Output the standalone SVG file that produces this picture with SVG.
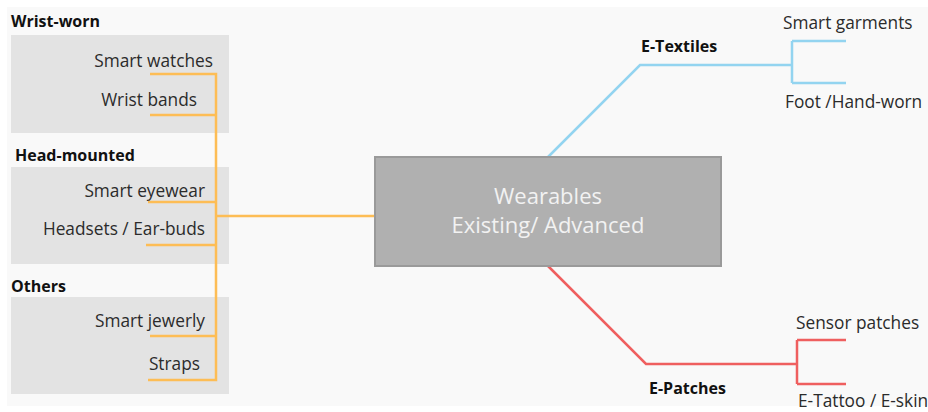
<svg xmlns="http://www.w3.org/2000/svg" width="928" height="412" viewBox="0 0 928 412">
<style>
.t{font-family:"Open Sans",Lato,"Liberation Sans",sans-serif;font-size:17.3px;fill:#2b2b2b}
.b{font-family:"Open Sans",Lato,"Liberation Sans",sans-serif;font-size:16px;font-weight:bold;fill:#111}
.c{font-family:"Open Sans",Lato,"Liberation Sans",sans-serif;font-size:22px;fill:#f2f2f2;text-anchor:middle}
.r{text-anchor:end}
.grp{fill:#e3e3e3}
.o{stroke:#fdbd55;stroke-width:2.5;fill:none}
.bl{stroke:#93d4f0;stroke-width:2.5;fill:none}
.rd{stroke:#ef5f5f;stroke-width:2.5;fill:none}
</style>
<rect x="0" y="0" width="928" height="412" fill="#ffffff"/>
<rect x="7" y="7" width="921" height="399" fill="#f9f9f9"/>
<g id="wrist-worn">
<text class="b" x="11" y="27">Wrist-worn</text>
<rect class="grp" x="11" y="35" width="218" height="98"/>
<text class="t r" x="213" y="67">Smart watches</text>
<text class="t r" x="197" y="106">Wrist bands</text>
</g>
<g id="head-mounted">
<text class="b" x="15" y="161">Head-mounted</text>
<rect class="grp" x="11" y="167" width="218" height="97"/>
<text class="t r" x="205" y="197">Smart eyewear</text>
<text class="t r" x="205" y="235">Headsets / Ear-buds</text>
</g>
<g id="others">
<text class="b" x="11" y="292">Others</text>
<rect class="grp" x="11" y="297" width="218" height="97"/>
<text class="t r" x="205" y="327">Smart jewerly</text>
<text class="t r" x="200" y="370">Straps</text>
</g>
<g id="connectors">
<path class="o" d="M150,74H216V380H148M150,115H216M148,202H216M146,245H216M150,336H216M216,216H375"/>
<path class="bl" d="M548,157L640,65H792M792,41V83M792,41H846M792,83H846"/>
<path class="rd" d="M548,266L646,364H797M797,340V384M797,340H846M797,384H846"/>
</g>
<g id="center">
<rect x="375" y="157" width="346" height="109" fill="#b0b0b0" stroke="#9a9a9a" stroke-width="2"/>
<text class="c" x="548" y="204">Wearables</text>
<text class="c" x="548" y="233">Existing/ Advanced</text>
</g>
<g id="e-textiles">
<text class="b" x="641" y="52">E-Textiles</text>
<text class="t" x="783" y="29">Smart garments</text>
<text class="t" x="785" y="108">Foot /Hand-worn</text>
</g>
<g id="e-patches">
<text class="b" x="649" y="394">E-Patches</text>
<text class="t" x="796" y="329">Sensor patches</text>
<text class="t" x="798" y="407">E-Tattoo / E-skin</text>
</g>
</svg>
